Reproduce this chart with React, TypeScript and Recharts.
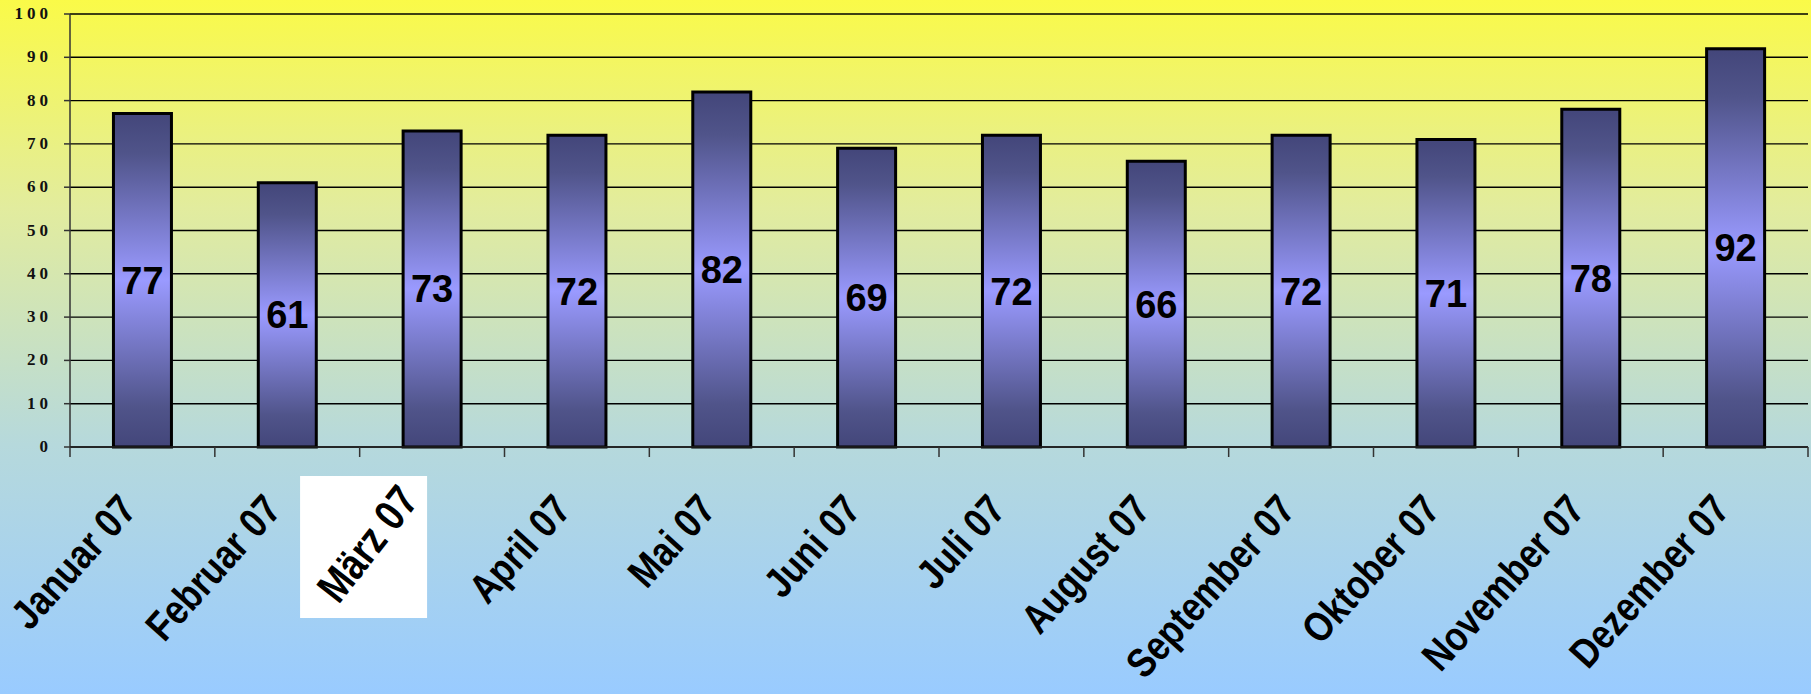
import React from 'react'
import { BarChart, Bar, XAxis, YAxis, CartesianGrid, LabelList } from 'recharts'

// months and values
const months = [
  'Januar 07', 'Februar 07', 'März 07', 'April 07', 'Mai 07', 'Juni 07',
  'Juli 07', 'August 07', 'September 07', 'Oktober 07', 'November 07', 'Dezember 07',
]
const values = [77, 61, 73, 72, 82, 69, 72, 66, 72, 71, 78, 92]
const yTicks = [0, 10, 20, 30, 40, 50, 60, 70, 80, 90, 100]

const chartData = months.map((month, i) => ({ month, value: values[i] }))

const W = 1811
const H = 694

// Y axis labels: bold serif with wide letter spacing
const YTick = ({ x, y, payload }: any) => (
  <text
    x={x}
    y={y}
    dy={5}
    textAnchor="end"
    fill="#111"
    fontFamily="'Liberation Serif', 'DejaVu Serif', serif"
    fontWeight="bold"
    fontSize={17}
    letterSpacing={4}
  >
    {payload.value}
  </text>
)

// X axis: tick marks sit on the category edges, labels rotated
const XTick = ({ x, y, payload, index }: any) => {
  const half = payload.offset ?? 72.4
  const isLast = index === months.length - 1
  const ax = x - 4
  const ay = y + 64
  const isMarch = payload.value === 'März 07'
  return (
    <g>
      <line x1={x - half} y1={y} x2={x - half} y2={y + 10} stroke="#333" strokeWidth={1.5} />
      {isLast && (
        <line x1={x + half} y1={y} x2={x + half} y2={y + 10} stroke="#333" strokeWidth={1.5} />
      )}
      {isMarch ? (
        <g>
          <rect x={x - 132} y={y + 29} width={127} height={142} fill="#fff" />
          <g transform={`translate(${x - 12}, ${y + 54}) rotate(-52) scale(0.95, 1.15)`}>
            <text
              x={0}
              y={0}
              textAnchor="end"
              fill="#000"
              fontFamily="'Liberation Sans', Arial, sans-serif"
              fontWeight="bold"
              fontSize={38}
            >
              {payload.value}
            </text>
          </g>
        </g>
      ) : (
        <g transform={`translate(${ax}, ${ay}) rotate(-48) scale(0.94, 1.12)`}>
          <text
            x={0}
            y={0}
            textAnchor="end"
            fill="#000"
            fontFamily="'Liberation Sans', Arial, sans-serif"
            fontWeight="bold"
            fontSize={37}
          >
            {payload.value}
          </text>
        </g>
      )}
    </g>
  )
}

export default function App() {
  return (
    <div
      style={{
        position: 'absolute',
        left: 0,
        top: 0,
        width: W,
        height: H,
        background: 'linear-gradient(to bottom, #fafa48 0%, #e2ec9e 30%, #b6d9dc 64%, #99cbff 100%)',
      }}
    >
      <BarChart
        width={W}
        height={H}
        data={chartData}
        margin={{ top: 14, right: 3, bottom: 0, left: 0 }}
        barCategoryGap="30%"
      >
        <defs>
          <linearGradient id="barGrad" x1="0" y1="0" x2="0" y2="1">
            <stop offset="0%" stopColor="#43467a" />
            <stop offset="12%" stopColor="#50548a" />
            <stop offset="50%" stopColor="#9a9aff" />
            <stop offset="88%" stopColor="#50548a" />
            <stop offset="100%" stopColor="#43467a" />
          </linearGradient>
        </defs>
        <CartesianGrid vertical={false} stroke="#000" strokeWidth={1.4} />
        <YAxis
          type="number"
          domain={[0, 100]}
          ticks={yTicks}
          width={70}
          tickSize={6}
          tickMargin={12}
          tick={<YTick />}
          tickLine={{ stroke: '#333', strokeWidth: 1.5 }}
          axisLine={{ stroke: '#333', strokeWidth: 1.5 }}
          interval={0}
        />
        <XAxis
          dataKey="month"
          height={247}
          tickSize={0}
          tickMargin={0}
          tickLine={false}
          tick={<XTick />}
          axisLine={{ stroke: '#222', strokeWidth: 1.5 }}
          interval={0}
        />
        <Bar
          dataKey="value"
          fill="url(#barGrad)"
          stroke="#000"
          strokeWidth={3}
          isAnimationActive={false}
        >
          <LabelList
            dataKey="value"
            position="center"
            fill="#000"
            fontSize={38}
            fontWeight="bold"
            fontFamily="'Liberation Sans', Arial, sans-serif"
          />
        </Bar>
      </BarChart>
    </div>
  )
}
